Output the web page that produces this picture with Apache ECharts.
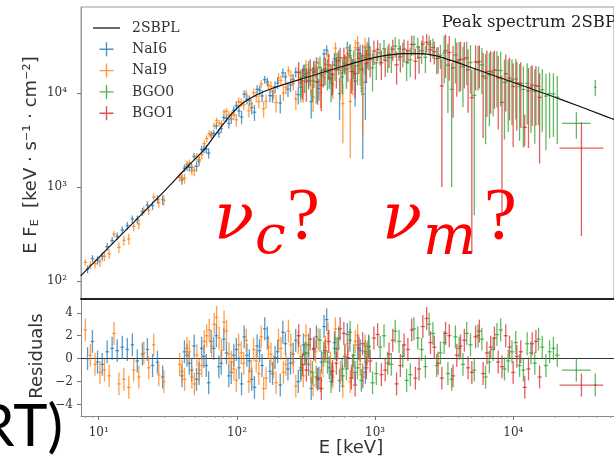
<!DOCTYPE html>
<html><head><meta charset="utf-8">
<script src="https://cdn.jsdelivr.net/npm/echarts@6/dist/echarts.min.js"></script>
<style>html,body{margin:0;padding:0;background:#fff}#c{width:614px;height:459px}</style>
</head><body><div id="c"></div><script>
// ---- axes ----
const xMin = 7.44, xMax = 53540;
const yMinTop = 64.1, yMaxTop = 83200;
const resMin = -5, resMax = 5.2;
const xTicks = [10, 100, 1000, 10000];
const xMinor = [8, 9, 20, 30, 40, 50, 60, 70, 80, 90, 200, 300, 400, 500, 600, 700, 800, 900,
  2000, 3000, 4000, 5000, 6000, 7000, 8000, 9000, 20000, 30000, 40000, 50000];
const yTicks = [100, 1000, 10000];
const yMinor = [70, 80, 90, 200, 300, 400, 500, 600, 700, 800, 900, 2000, 3000, 4000, 5000, 6000, 7000, 8000, 9000,
  20000, 30000, 40000, 50000, 60000, 70000, 80000];
const resTicks = [-4, -2, 0, 2, 4];

// ---- 2SBPL model curve ----
const modelE = [7.4, 14.1, 27.3, 44.7, 57.2, 67.4, 79.4, 93.6, 110, 137, 181, 322, 621, 1017, 1665, 2132, 2728, 3491, 4467, 5265, 7316, 12590, 22030, 47710, 53540];
const modelF = [113, 296, 791, 1698, 2457, 3383, 4660, 6264, 7817, 9519, 11310, 14830, 19930, 24270, 26460, 26460, 25180, 22540, 19930, 18280, 15390, 11590, 8627, 5607, 5260];

// ---- NaI6 ----
const nai6E = [8.3,9.0,9.8,10.6,11.5,12.5,13.6,14.8,16.1,17.5,19.0,20.7,22.5,24.5,26.6,29.0,40,43.5,47,51,55.5,60,65,71,77,84,91,99,108,118,128,140,152,166,181,197,215,234,255,278,303,330,360,392,427,466,508,553,603,657,716,780,850,900,
  41.7,45.2,49,53.2,57.7,62.4,68,74,80.4,87.4,94.9,103.4,112.9,122.9,133.9,145.9,158.9,173.3,188.8,205.8,224.3,244.3,266.3,290.2,316.2,344.7,375.7,409.1,446.1,486.5,530,577.5,629.4,685.9,747.3,814.2,874.6];
const nai6F = [133,173,166,183,231,269,299,349,389,457,453,546,643,636,742,732,1199,1648,1617,1665,2513,2538,3625,4492,4205,5445,5328,7399,5588,8610,7025,11040,9368,13240,9407,12840,16500,11050,14100,9695,17530,13660,18130,11250,26280,14720,23310,9933,20650,28550,13500,26410,13100,31200,
  1593,1628,2120,1883,2545,2304,3744,3766,5514,4763,6586,6472,9754,8422,6280,10810,13970,9445,11720,7875,14960,12250,16830,11590,16040,8141,21340,15540,28860,12860,22270,14950,30540,17010,29190,9771,26050];
const nai6dF = [13,15,17,19,22,25,28,32,36,41,46,53,60,68,77,87,141,160,180,203,231,270,315,374,438,519,606,810,911,997,1075,1256,1321,1395,1472,1767,1841,1916,1995,2078,2596,2702,2808,2918,3370,3504,3642,4730,4918,5098,6330,6549,7907,8089,
  150,170,191,216,250,292,344,405,471,560,639,859,953,1035,1210,1288,1357,1433,1732,1803,1878,1955,2036,2544,2648,2754,2862,3305,3436,3572,4641,4823,5007,6223,6439,7772,7997];
const nai6R = [0.0,1.5,-0.3,-0.5,0.6,0.9,0.7,1.0,0.8,1.2,-0.2,0.4,0.8,-0.6,-0.3,-1.6,-1.5,0.3,-1.0,-1.8,0.9,-0.6,1.5,2.0,-0.4,0.5,-1.2,0.8,-2.2,0.3,-1.8,1.1,-0.6,1.8,-1.3,0.6,2.3,-0.9,0.4,-2.0,1.2,-0.5,0.9,-1.7,2.8,-0.8,1.4,-1.9,0.2,1.6,-1.2,0.7,-1.2,1.0,
  0.6,-0.4,1.1,-1.3,0.2,-2.1,0.9,-0.7,1.7,-1.5,0.3,-0.8,1.9,-0.2,-2.5,0.7,2.6,-1.1,0.1,-2.3,1.3,-0.4,1.6,-1.0,0.5,-2.6,1.9,-0.3,3.4,-1.4,0.8,-0.9,2.1,-0.6,1.2,-1.6,0.4];
const nai6W = 1.03;

// ---- NaI9 ----
const nai9E = [8.0,8.7,9.4,10.2,11.0,11.9,12.9,14.0,15.2,16.5,17.9,19.5,21.2,23.0,25.0,27.2,29.6,38.5,41.8,45.3,49.2,53.4,58,63,68.4,74.3,80.7,87.6,95.1,103,112,122,132,144,156,169,184,200,217,236,256,278,302,328,356,387,420,456,495,538,584,634,689,748,812,882,
  40.1,43.5,47.2,51.3,55.7,60.4,65.6,71.3,77.4,84.1,91.3,99,107.4,116.9,126.9,137.9,149.9,162.4,176.3,191.8,208.3,226.3,245.7,266.8,289.8,315.7,341.7,371.2,403.2,438.3,474.9,516.1,560.5,608.5,660.9,717.9,779.3,846.3];
const nai9F = [157.8,147.4,152.7,159.9,183.1,194.6,315.2,227.9,271.0,280.4,380.3,403.4,571.7,565.9,780.6,680.3,718.6,1266,1236,1802,1502,1958,2906,3709,4525,4823,6332,5848,5821,8145,7540,6518,10110,8170,6838,12260,10210,14710,10110,17440,12720,16760,10510,16310,9095,21050,14720,24980,12240,22900,7756,26630,15790,34350,11320,27750,
  1261,1745,1520,2108,2204,3286,3568,5130,4738,6441,5818,5210,7960,9823,7719,9274,12570,8247,11800,7969,13730,11630,15420,8692,14630,19960,12220,17530,10180,20440,16260,30260,13330,21220,8175,30630,18550,31240];
const nai9dF = [12.6,14.3,16.1,18.2,20.3,22.9,25.8,29.2,33,37.4,42.3,48,54.5,61.5,69.7,79.1,89.8,133,151,170,193,218,253,297,348,409,480,562,640,854,950,1029,1107,1278,1343,1411,1712,1779,1850,1923,1998,2078,2592,2693,2794,2902,3346,3470,3600,4673,4848,5025,6234,6441,7767,8026,
  142,160,181,205,235,274,321,377,443,519,600,810,901,989,1067,1238,1310,1376,1669,1745,1814,1886,1960,2037,2542,2642,2743,2847,3285,3407,3534,4585,4759,4936,6131,6337,6548,7895];
const nai9R = [2.5,0.3,-0.5,-1.2,-1.0,-1.5,2.2,-2.2,-1.8,-2.5,-1.0,-1.6,0.5,-0.8,1.2,-1.4,-2.0,-0.5,-1.8,0.6,-2.2,-1.0,1.5,2.5,3.0,1.8,3.2,0.4,-0.9,1.2,-0.4,-2.0,0.8,-1.3,-2.6,1.0,-0.7,1.6,-1.2,2.4,-0.3,1.4,-1.5,0.5,-2.3,1.7,-0.6,2.2,-1.6,0.9,-2.4,1.3,-0.8,2.0,-1.4,0.6,
  -1.1,0.9,-1.6,0.3,-0.6,2.0,1.1,3.6,0.7,2.4,-0.3,-1.9,0.5,1.6,-1.1,-0.2,1.9,-1.7,0.4,-2.1,0.9,-0.5,1.2,-2.4,0.2,2.0,-1.1,0.6,-1.9,1.0,-0.4,2.6,-1.2,0.3,-2.0,1.5,-0.5,1.1];
const nai9W = 1.03;

// ---- BGO0 ----
const bgo0E = [290,330,375,425,480,545,620,700,795,900,1020,1160,1310,1490,1690,1910,2170,2460,2790,3160,3580,4060,4600,5220,5920,6710,7610,8630,9780,11100,12600,14300,16200,18300,20800,
  309,352,399,452,512,581,659,746,846,958,1088,1233,1397,1587,1797,2036,2311,2620,2969,3363,3811,4322,4900,5559,6303,7146,8104,9187,10419,11827,13423,15220,17218,19510];
const bgo0F = [12940,16810,13350,17650,14210,22180,18130,21540,17820,25650,21130,29800,24090,29830,21430,33340,28470,33440,23430,26870,11000,22780,23950,9500,20110,15710,17600,13090,13840,11770,12760,10470,10940,9958,9101,
  15110,13590,18960,16760,19920,16450,25100,19730,23900,18720,27010,24090,31800,26720,22760,31160,24220,30890,25450,19920,25660,19240,21270,21320,14510,16570,17500,13430,14210,11000,11630,11890,9340,9852];
const bgo0dF = [4921,5254,5562,5884,6216,6580,6972,7319,7700,8089,7287,7449,7608,7782,7938,7938,7908,7716,7479,14140,10000,12540,11780,9000,10310,11270,10550,9877,9247,8652,8092,7574,7091,6651,6222,
  5084,5405,5720,6048,6396,6773,7144,7508,7892,8293,7368,7528,7695,7860,7938,7923,7811,7597,7272,13740,12940,12150,11390,10660,11650,10900,10210,9556,8945,8367,7829,7328,6868,6433];
const bgo0R = [-0.8,1.2,-1.6,0.5,-2.0,1.8,-0.9,0.3,-1.9,1.1,-1.3,2.0,-0.5,1.5,-1.9,2.6,0.8,3.0,-0.6,1.4,-1.8,0.9,2.2,-1.0,1.7,-0.3,2.1,-0.9,0.6,-0.6,1.3,-0.4,1.0,0.6,0.3,
  0.4,-1.2,1.6,-0.3,0.9,-1.5,2.3,-0.8,0.6,-2.1,1.0,-0.4,2.4,0.2,-1.4,1.8,-0.7,2.2,0.5,-1.3,1.9,-0.5,1.2,2.0,-1.6,0.8,2.5,-0.2,1.4,-1.0,0.5,1.7,-0.6,0.9];
const bgo0W = 1.035;
// wide / special high-energy bins of BGO0
const bgo0XE = [28600, 39200];
const bgo0XF = [4780, 11600];
const bgo0XdF = [1500, 2300];
const bgo0XR = [-1.0, -2.3];
const bgo0XW = [1.27, 1.02];

// ---- BGO1 ----
const bgo1E = [280,318,360,408,462,524,594,673,763,865,980,1110,1260,1430,1620,1840,2080,2360,2680,3040,3440,3900,4420,5010,5680,6440,7300,8280,9390,10600,12100,13700,15500,
  298.4,338.8,383.2,434.2,492,557.9,634.6,716.6,812.4,920.7,1043,1183,1342,1522,1726,1956,2216,2515,2854,3234,3663,4152,4706,5335,6048,6857,7775,8818,9976,11325,12875,14572];
const bgo1F = [16670,13280,16850,12210,20070,17730,23840,17090,23590,20940,28230,21200,26200,20090,29490,33080,24080,35010,27800,12000,27220,21960,23250,9000,21790,17110,17620,8000,14580,12860,4330,12220,9051,
  13600,17750,13160,18160,15980,23940,20260,16250,25080,22870,29380,22430,29550,24480,28510,21960,33530,29180,23630,28450,18690,22940,17840,21610,15230,17190,14540,16180,11820,12820,10620,12010];
const bgo1dF = [4862,5163,5460,5775,6108,6465,6839,7207,7574,7966,8372,7395,7557,7728,7899,7938,7938,7779,7581,11000,13610,12790,12020,8800,10540,11520,10780,7500,9450,8862,1600,7749,7266,
  5010,5310,5615,5939,6284,6649,7020,7388,7768,8167,7285,7475,7642,7813,7919,7938,7858,7679,7385,13990,13190,12400,11640,10900,11900,11140,10430,9766,9151,8563,8007,7503];
const bgo1R = [2.0,-1.0,0.8,-2.6,1.5,-0.4,2.2,-1.7,0.9,-0.8,1.8,-1.4,0.4,-2.2,1.2,2.5,-0.9,3.5,1.0,-1.7,2.0,0.3,1.6,-1.2,2.4,0.5,1.8,-0.7,1.0,0.2,-2.5,1.3,-1.6,
  -0.5,1.7,-1.8,0.7,-1.1,2.6,0.1,-2.3,1.3,-0.2,2.1,-1.0,1.6,-0.6,0.8,-1.7,2.8,1.4,-0.4,2.2,-1.5,1.1,-0.8,1.9,-1.3,1.0,-0.3,2.0,-1.2,0.6,-0.9,1.5];
const bgo1W = 1.035;
const bgo1XE = [31100];
const bgo1XF = [2600];
const bgo1XdF = [2300];
const bgo1XR = [-2.3];
const bgo1XW = [1.44];

const colors = {NaI6: '#1f77b4', NaI9: '#ff7f0e', BGO0: '#2ca02c', BGO1: '#d62728'};

// ---- helpers ----
const sup = {1: '\u00b9', 2: '\u00b2', 3: '\u00b3', 4: '\u2074'};
const fmtPow = v => '10' + sup[Math.round(Math.log10(v))];
const wAt = (W, i) => Array.isArray(W) ? W[i] : W;
const topData = (E, F, D, W) => E.map((e, i) => [e, F[i], D[i], wAt(W, i)]);
const resData = (E, R, W) => E.map((e, i) => [e, R[i], wAt(W, i)]);

function crossStyle(api) { return {stroke: api.visual('color'), lineWidth: 1.3, opacity: 0.74}; }
function renderTop(params, api) {
  const e = api.value(0), f = api.value(1), d = api.value(2), w = api.value(3);
  const lo = Math.max(f - d, yMinTop);
  const a = api.coord([e / w, f]), b = api.coord([e * w, f]);
  const c = api.coord([e, f + d]), g = api.coord([e, lo]);
  const st = crossStyle(api);
  return {type: 'group', children: [
    {type: 'line', shape: {x1: a[0], y1: a[1], x2: b[0], y2: b[1]}, style: st},
    {type: 'line', shape: {x1: c[0], y1: c[1], x2: g[0], y2: g[1]}, style: st}]};
}
function renderRes(params, api) {
  const e = api.value(0), r = api.value(1), w = api.value(2);
  const a = api.coord([e / w, r]), b = api.coord([e * w, r]);
  const c = api.coord([e, r + 1]), g = api.coord([e, r - 1]);
  const st = crossStyle(api);
  return {type: 'group', children: [
    {type: 'line', shape: {x1: a[0], y1: a[1], x2: b[0], y2: b[1]}, style: st},
    {type: 'line', shape: {x1: c[0], y1: c[1], x2: g[0], y2: g[1]}, style: st}]};
}

const tickFont = {fontFamily: 'DejaVu Serif', fontSize: 12, color: '#333'};
const plus = 'path://M6.3,0h1.4v14h-1.4zM0,6.3h14v1.4h-14z';
const dash = 'path://M0,0h28v1.3h-28z';

const topSets = [
  ['NaI6', topData(nai6E, nai6F, nai6dF, nai6W)],
  ['NaI9', topData(nai9E, nai9F, nai9dF, nai9W)],
  ['BGO0', topData(bgo0E, bgo0F, bgo0dF, bgo0W).concat(topData(bgo0XE, bgo0XF, bgo0XdF, bgo0XW))],
  ['BGO1', topData(bgo1E, bgo1F, bgo1dF, bgo1W).concat(topData(bgo1XE, bgo1XF, bgo1XdF, bgo1XW))]];
const resSets = [
  ['NaI6', resData(nai6E, nai6R, nai6W)],
  ['NaI9', resData(nai9E, nai9R, nai9W)],
  ['BGO0', resData(bgo0E, bgo0R, bgo0W).concat(resData(bgo0XE, bgo0XR, bgo0XW))],
  ['BGO1', resData(bgo1E, bgo1R, bgo1W).concat(resData(bgo1XE, bgo1XR, bgo1XW))]];

const series = [];
topSets.forEach(([n, d]) => series.push({
  name: n, type: 'custom', xAxisIndex: 0, yAxisIndex: 0, renderItem: renderTop,
  itemStyle: {color: colors[n], opacity: 0.8}, encode: {x: 0, y: 1}, data: d, z: 2}));
series.push({name: '2SBPL', type: 'line', xAxisIndex: 0, yAxisIndex: 0, symbol: 'none', smooth: 0.3,
  lineStyle: {color: '#111', width: 1.2}, itemStyle: {color: '#111'},
  data: modelE.map((e, i) => [e, modelF[i]]), z: 5});
resSets.forEach(([n, d], k) => {
  const s = {name: n, type: 'custom', xAxisIndex: 1, yAxisIndex: 2, renderItem: renderRes,
    itemStyle: {color: colors[n], opacity: 0.8}, encode: {x: 0, y: 1}, data: d, z: 2};
  if (k === 0) s.markLine = {silent: true, symbol: 'none', label: {show: false},
    lineStyle: {color: '#333', width: 1.2, type: 'solid'}, data: [{yAxis: 0}], z: 1};
  series.push(s);
});

const chart = echarts.init(document.getElementById('c'), null, {renderer: 'canvas'});
chart.setOption({
  animation: false,
  backgroundColor: '#fff',
  grid: [
    {left: 81, top: 7, width: 540, height: 292, show: true, borderColor: '#999', borderWidth: 1},
    {left: 81, top: 299, width: 540, height: 117, show: false}
  ],
  xAxis: [
    {type: 'log', gridIndex: 0, min: xMin, max: xMax, position: 'bottom',
      axisLine: {show: true, lineStyle: {color: '#222', width: 2}},
      axisTick: {show: false}, axisLabel: {show: false}, splitLine: {show: false}},
    {type: 'log', gridIndex: 1, min: xMin, max: xMax, position: 'bottom',
      axisLine: {show: true, onZero: false, lineStyle: {color: '#888', width: 1}},
      axisTick: {show: true, length: 4, lineStyle: {color: '#777'}, customValues: xTicks},
      axisLabel: {show: true, margin: 11, customValues: xTicks, formatter: fmtPow, ...tickFont},
      splitLine: {show: false}},
    {type: 'log', gridIndex: 1, min: xMin, max: xMax, position: 'bottom',
      axisLine: {show: false, onZero: false}, axisTick: {show: true, length: 2, lineStyle: {color: '#999'}, customValues: xMinor},
      axisLabel: {show: false}, splitLine: {show: false}}
  ],
  yAxis: [
    {type: 'log', gridIndex: 0, min: yMinTop, max: yMaxTop,
      axisLine: {show: true, lineStyle: {color: '#999', width: 1}},
      axisTick: {show: true, length: 4, lineStyle: {color: '#777'}, customValues: yTicks},
      axisLabel: {show: true, margin: 14, customValues: yTicks, formatter: fmtPow, ...tickFont},
      splitLine: {show: false}},
    {type: 'log', gridIndex: 0, min: yMinTop, max: yMaxTop,
      axisLine: {show: false}, axisTick: {show: true, length: 2, lineStyle: {color: '#999'}, customValues: yMinor},
      axisLabel: {show: false}, splitLine: {show: false}},
    {type: 'value', gridIndex: 1, min: resMin, max: resMax,
      axisLine: {show: true, onZero: false, lineStyle: {color: '#888', width: 1}},
      axisTick: {show: true, length: 4, lineStyle: {color: '#777'}, customValues: resTicks},
      axisLabel: {show: true, margin: 8, customValues: resTicks, formatter: v => (v < 0 ? '\u2212' + (-v) : '' + v), ...tickFont},
      splitLine: {show: false}}
  ],
  legend: {
    orient: 'vertical', left: 93, top: 21, padding: 0, itemWidth: 27, itemHeight: 14, itemGap: 7.3,
    textStyle: {fontFamily: 'DejaVu Serif', fontSize: 14, lineHeight: 14, color: '#333', padding: [0, 0, 0, 7]},
    data: [{name: '2SBPL', icon: dash}, {name: 'NaI6', icon: plus}, {name: 'NaI9', icon: plus}, {name: 'BGO0', icon: plus}, {name: 'BGO1', icon: plus}]
  },
  graphic: [
    {type: 'text', x: 627, y: 23, style: {text: 'Peak spectrum 2SBPL', font: '16.5px "DejaVu Serif"', fill: '#222', align: 'right', verticalAlign: 'middle'}},
    {type: 'text', x: 31, y: 155, rotation: Math.PI / 2, style: {
      text: 'E F{s|E}  [keV \u00b7 s\u207b\u00b9 \u00b7 cm\u207b\u00b2]', fontFamily: 'DejaVu Sans', fontSize: 18, fill: '#333',
      align: 'center', verticalAlign: 'middle', rich: {s: {fontSize: 11, fontFamily: 'DejaVu Sans', fill: '#333', padding: [8, 0, 0, 0]}}}},
    {type: 'text', x: 37, y: 356, rotation: Math.PI / 2, style: {text: 'Residuals', font: '18px "DejaVu Sans"', fill: '#333', align: 'center', verticalAlign: 'middle'}},
    {type: 'text', x: 351, y: 448, style: {text: 'E [keV]', font: '18px "DejaVu Sans"', fill: '#333', align: 'center', verticalAlign: 'middle'}},
    {type: 'text', x: 214, y: 222, style: {text: '\u03bd', font: 'italic 66px "DejaVu Serif"', fill: '#ff0000', align: 'left', verticalAlign: 'middle'}},
    {type: 'text', x: 255, y: 239, style: {text: 'c', font: 'italic 55px "DejaVu Serif"', fill: '#ff0000', align: 'left', verticalAlign: 'middle'}},
    {type: 'text', x: 287, y: 220, style: {text: '?', font: '74px "Liberation Serif"', fill: '#ff0000', align: 'left', verticalAlign: 'middle'}},
    {type: 'text', x: 382, y: 222, style: {text: '\u03bd', font: 'italic 66px "DejaVu Serif"', fill: '#ff0000', align: 'left', verticalAlign: 'middle'}},
    {type: 'text', x: 423, y: 239, style: {text: 'm', font: 'italic 56px "DejaVu Serif"', fill: '#ff0000', align: 'left', verticalAlign: 'middle'}},
    {type: 'text', x: 484, y: 220, style: {text: '?', font: '74px "Liberation Serif"', fill: '#ff0000', align: 'left', verticalAlign: 'middle'}},
    {type: 'text', x: 63, y: 427, style: {text: 'RT)', font: '58px Lato', fill: '#000', align: 'right', verticalAlign: 'middle'}}
  ],
  series: series
});
</script></body></html>
